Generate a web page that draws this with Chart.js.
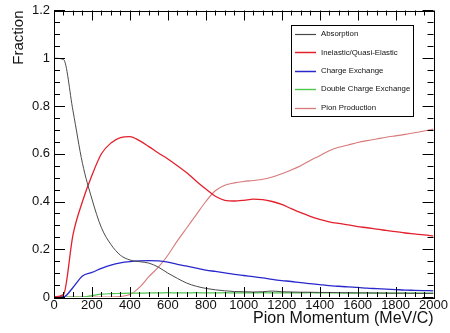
<!DOCTYPE html>
<html>
<head>
<meta charset="utf-8">
<script src="https://cdn.jsdelivr.net/npm/chart.js@4/dist/chart.umd.min.js"></script>
<style>
  html, body { margin: 0; padding: 0; background: #fff; }
  #wrap { width: 450px; height: 333px; }
</style>
</head>
<body>
<div id="wrap"><canvas id="c" width="450" height="333"></canvas></div>
<script>
// Pion momentum bins (MeV/C)
const momentum = [0,50,100,150,200,250,300,350,400,450,500,550,600,650,700,750,800,850,900,950,
  1000,1050,1100,1150,1200,1250,1300,1350,1400,1450,1500,1550,1600,1650,1700,1750,1800,1850,1900,1950,2000];

// Interaction channel fractions
const absorption = [1.0,0.995,0.78,0.56,0.41,0.29,0.22,0.175,0.155,0.148,0.142,0.125,0.1,0.078,0.058,0.045,0.036,0.03,0.026,0.023,
  0.022,0.021,0.022,0.025,0.022,0.021,0.02,0.02,0.019,0.019,0.018,0.018,0.017,0.017,0.017,0.016,0.016,0.016,0.015,0.015,0.015];
const inelastic = [0,0.01,0.26,0.40,0.51,0.60,0.645,0.668,0.672,0.655,0.63,0.603,0.578,0.55,0.52,0.485,0.452,0.422,0.405,0.402,
  0.405,0.41,0.408,0.40,0.388,0.37,0.353,0.338,0.325,0.315,0.308,0.302,0.295,0.29,0.284,0.279,0.274,0.268,0.264,0.26,0.255];
const chargeExchange = [0,0,0.04,0.088,0.103,0.12,0.134,0.143,0.148,0.151,0.152,0.151,0.146,0.137,0.129,0.121,0.113,0.107,0.101,0.095,
  0.09,0.085,0.08,0.074,0.069,0.065,0.06,0.056,0.052,0.048,0.045,0.042,0.04,0.037,0.035,0.033,0.031,0.029,0.028,0.027,0.026];
const doubleChargeExchange = [0,0,0,0,0.006,0.012,0.014,0.015,0.016,0.016,0.017,0.017,0.018,0.017,0.017,0.018,0.017,0.017,0.018,0.017,
  0.017,0.017,0.018,0.017,0.017,0.017,0.017,0.018,0.017,0.017,0.017,0.016,0.017,0.017,0.016,0.017,0.016,0.016,0.017,0.016,0.016];
const pionProduction = [0,0,0,0,0,0,0,0.002,0.01,0.04,0.085,0.125,0.175,0.235,0.29,0.345,0.4,0.445,0.468,0.478,
  0.484,0.488,0.493,0.503,0.516,0.532,0.55,0.572,0.592,0.613,0.627,0.637,0.647,0.655,0.662,0.669,0.675,0.681,0.688,0.695,0.703];

const seriesNames = ['Absorption','Inelastic/Quasi-Elastic','Charge Exchange','Double Charge Exchange','Pion Production'];
const seriesData = [absorption, inelastic, chargeExchange, doubleChargeExchange, pionProduction];
const seriesColors = ['#4a4a4a','#e3202c','#2828cc','#4cc84c','#d77a7a'];
const seriesWidths = [1, 1.3, 1.3, 1.2, 1.1];

const xTicks = [0,200,400,600,800,1000,1200,1400,1600,1800,2000];
const yTicks = [0,0.2,0.4,0.6,0.8,1,1.2];

const FONT = '"Liberation Sans", Arial, Helvetica, sans-serif';

const datasets = seriesNames.map((name, i) => ({
  label: name,
  data: momentum.map((m, k) => ({ x: m, y: seriesData[i][k] })),
  borderColor: seriesColors[i],
  backgroundColor: seriesColors[i],
  borderWidth: seriesWidths[i],
  pointRadius: 0,
  cubicInterpolationMode: 'monotone',
  fill: false
}));

// Frame with inward ticks on all four sides, ROOT style
const framePlugin = {
  id: 'frame',
  afterDatasetsDraw(chart) {
    const { ctx, chartArea: a } = chart;
    const xs = chart.scales.x, ys = chart.scales.y;
    ctx.save();
    ctx.strokeStyle = '#000';
    ctx.lineWidth = 1;
    ctx.strokeRect(Math.round(a.left) + 0.5, Math.round(a.top) + 0.5,
      Math.round(a.right - a.left), Math.round(a.bottom - a.top));
    ctx.beginPath();
    for (let v = 0; v <= 2000 + 1e-6; v += 50) {
      const px = Math.round(xs.getPixelForValue(v)) + 0.5;
      const major = Math.abs(v % 200) < 1e-6;
      const len = major ? 10 : 5;
      ctx.moveTo(px, a.bottom); ctx.lineTo(px, a.bottom - len);
      ctx.moveTo(px, a.top); ctx.lineTo(px, a.top + len);
    }
    for (let k = 0; k <= 24; k++) {
      const v = k * 0.05;
      const py = Math.round(ys.getPixelForValue(v)) + 0.5;
      const major = k % 4 === 0;
      const len = major ? 11 : 6;
      ctx.moveTo(a.left, py); ctx.lineTo(a.left + len, py);
      ctx.moveTo(a.right, py); ctx.lineTo(a.right - len, py);
    }
    ctx.stroke();
    ctx.restore();
  }
};

// Boxed legend in the upper right of the plot
const boxLegendPlugin = {
  id: 'boxLegend',
  afterDraw(chart) {
    const { ctx } = chart;
    const x0 = 291, y0 = 25, w = 122, h = 91;
    ctx.save();
    ctx.fillStyle = '#fff';
    ctx.fillRect(x0, y0, w, h);
    ctx.strokeStyle = '#000';
    ctx.lineWidth = 1;
    ctx.strokeRect(x0 + 0.5, y0 + 0.5, w, h);
    ctx.font = '7.8px ' + FONT;
    ctx.textBaseline = 'middle';
    ctx.textAlign = 'left';
    chart.data.datasets.forEach((ds, i) => {
      const y = y0 + 9 + i * 18.4;
      ctx.strokeStyle = ds.borderColor;
      ctx.lineWidth = ds.borderWidth + 0.2;
      ctx.beginPath();
      ctx.moveTo(x0 + 4, Math.round(y) + 0.5);
      ctx.lineTo(x0 + 25, Math.round(y) + 0.5);
      ctx.stroke();
      ctx.fillStyle = '#111';
      ctx.fillText(ds.label, x0 + 30, y);
    });
    ctx.restore();
  }
};

new Chart(document.getElementById('c'), {
  type: 'line',
  data: { datasets },
  plugins: [framePlugin, boxLegendPlugin],
  options: {
    responsive: false,
    animation: false,
    layout: { padding: { top: 8, right: 15, left: 0, bottom: 0 } },
    plugins: { legend: { display: false }, tooltip: { enabled: false } },
    scales: {
      x: {
        type: 'linear',
        min: 0, max: 2000,
        afterBuildTicks(s) { s.ticks = xTicks.map(v => ({ value: v })); },
        afterFit(s) { s.height = 36; },
        grid: { display: false, drawTicks: false },
        border: { display: false },
        ticks: { color: '#111', padding: 2, maxRotation: 0, autoSkip: false,
                 font: { family: FONT, size: 13, lineHeight: 1.0 },
                 callback: v => String(v) },
        title: { display: true, text: 'Pion Momentum (MeV/C)', align: 'end', color: '#111',
                 font: { family: FONT, size: 16, lineHeight: 1.0 }, padding: { top: 0, bottom: 6 } }
      },
      y: {
        type: 'linear',
        min: 0, max: 1.2,
        afterBuildTicks(s) { s.ticks = yTicks.map(v => ({ value: v })); },
        afterFit(s) { s.width = 54; },
        grid: { display: false, drawTicks: false },
        border: { display: false },
        ticks: { color: '#111', padding: 4, autoSkip: false,
                 font: { family: FONT, size: 13, lineHeight: 1.0 },
                 callback: v => String(Math.round(v * 10) / 10) },
        title: { display: true, text: 'Fraction', align: 'end', color: '#111',
                 font: { family: FONT, size: 15, lineHeight: 1.2 }, padding: { top: 10, bottom: 0 } }
      }
    }
  }
});
</script>
</body>
</html>
